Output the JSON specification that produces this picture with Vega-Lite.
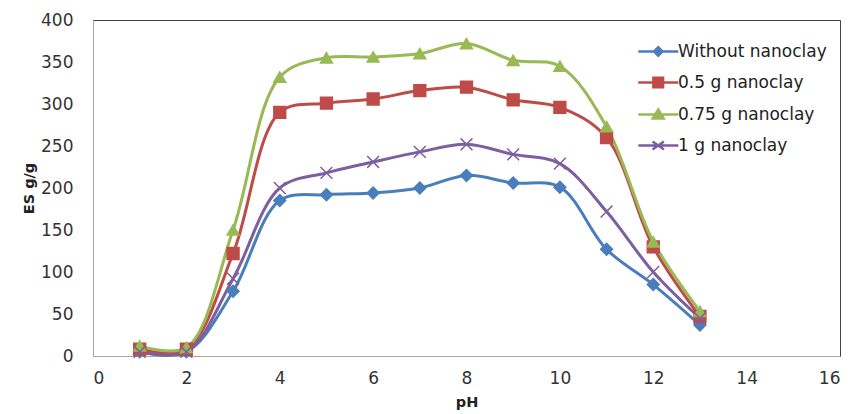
{
  "$schema": "https://vega.github.io/schema/vega-lite/v6.json",
  "width": 747,
  "height": 336,
  "autosize": {"type": "none"},
  "padding": {"left": 93, "top": 20, "right": 15, "bottom": 58},
  "background": "white",
  "config": {
    "view": {"stroke": "#404040", "strokeWidth": 1},
    "font": "DejaVu Sans",
    "axis": {"grid": false, "ticks": false, "domainColor": "#a6a6a6", "labelColor": "#333333", "labelFont": "DejaVu Sans", "labelFontSize": 17, "titleFont": "DejaVu Sans", "titleFontWeight": "bold", "titleFontSize": 14.5, "titleColor": "#222222"},
    "legend": {"orient": "none", "legendX": 552, "legendY": 16, "padding": 0, "symbolSize": 812, "symbolStrokeWidth": 2.5, "symbolOpacity": 1, "labelOffset": 2, "rowPadding": 6, "labelFont": "DejaVu Sans", "labelFontSize": 17, "labelColor": "#222222", "labelLimit": 300}
  },
  "data": {
    "values": [
      {"pH": 1, "series": "Without nanoclay", "ES": 5},
      {"pH": 2, "series": "Without nanoclay", "ES": 5},
      {"pH": 3, "series": "Without nanoclay", "ES": 77},
      {"pH": 4, "series": "Without nanoclay", "ES": 185},
      {"pH": 5, "series": "Without nanoclay", "ES": 192},
      {"pH": 6, "series": "Without nanoclay", "ES": 194},
      {"pH": 7, "series": "Without nanoclay", "ES": 200},
      {"pH": 8, "series": "Without nanoclay", "ES": 215},
      {"pH": 9, "series": "Without nanoclay", "ES": 206},
      {"pH": 10, "series": "Without nanoclay", "ES": 201},
      {"pH": 11, "series": "Without nanoclay", "ES": 127},
      {"pH": 12, "series": "Without nanoclay", "ES": 85},
      {"pH": 13, "series": "Without nanoclay", "ES": 37},
      {"pH": 1, "series": " 0.5 g nanoclay", "ES": 8},
      {"pH": 2, "series": " 0.5 g nanoclay", "ES": 8},
      {"pH": 3, "series": " 0.5 g nanoclay", "ES": 122},
      {"pH": 4, "series": " 0.5 g nanoclay", "ES": 290},
      {"pH": 5, "series": " 0.5 g nanoclay", "ES": 301},
      {"pH": 6, "series": " 0.5 g nanoclay", "ES": 306},
      {"pH": 7, "series": " 0.5 g nanoclay", "ES": 316},
      {"pH": 8, "series": " 0.5 g nanoclay", "ES": 320},
      {"pH": 9, "series": " 0.5 g nanoclay", "ES": 305},
      {"pH": 10, "series": " 0.5 g nanoclay", "ES": 296},
      {"pH": 11, "series": " 0.5 g nanoclay", "ES": 260},
      {"pH": 12, "series": " 0.5 g nanoclay", "ES": 130},
      {"pH": 13, "series": " 0.5 g nanoclay", "ES": 47},
      {"pH": 1, "series": "0.75 g nanoclay", "ES": 12},
      {"pH": 2, "series": "0.75 g nanoclay", "ES": 10},
      {"pH": 3, "series": "0.75 g nanoclay", "ES": 150},
      {"pH": 4, "series": "0.75 g nanoclay", "ES": 332},
      {"pH": 5, "series": "0.75 g nanoclay", "ES": 355},
      {"pH": 6, "series": "0.75 g nanoclay", "ES": 356},
      {"pH": 7, "series": "0.75 g nanoclay", "ES": 360},
      {"pH": 8, "series": "0.75 g nanoclay", "ES": 372},
      {"pH": 9, "series": "0.75 g nanoclay", "ES": 352},
      {"pH": 10, "series": "0.75 g nanoclay", "ES": 345},
      {"pH": 11, "series": "0.75 g nanoclay", "ES": 273},
      {"pH": 12, "series": "0.75 g nanoclay", "ES": 136},
      {"pH": 13, "series": "0.75 g nanoclay", "ES": 53},
      {"pH": 1, "series": "1 g nanoclay", "ES": 5},
      {"pH": 2, "series": "1 g nanoclay", "ES": 5},
      {"pH": 3, "series": "1 g nanoclay", "ES": 92},
      {"pH": 4, "series": "1 g nanoclay", "ES": 200},
      {"pH": 5, "series": "1 g nanoclay", "ES": 218},
      {"pH": 6, "series": "1 g nanoclay", "ES": 231},
      {"pH": 7, "series": "1 g nanoclay", "ES": 243},
      {"pH": 8, "series": "1 g nanoclay", "ES": 252},
      {"pH": 9, "series": "1 g nanoclay", "ES": 240},
      {"pH": 10, "series": "1 g nanoclay", "ES": 229},
      {"pH": 11, "series": "1 g nanoclay", "ES": 172},
      {"pH": 12, "series": "1 g nanoclay", "ES": 100},
      {"pH": 13, "series": "1 g nanoclay", "ES": 45}
    ]
  },
  "encoding": {
    "x": {"field": "pH", "type": "quantitative", "scale": {"domain": [0, 16], "nice": false}, "axis": {"values": [0, 2, 4, 6, 8, 10, 12, 14, 16], "labelPadding": 14, "titlePadding": 9, "title": "pH"}},
    "y": {"field": "ES", "type": "quantitative", "scale": {"domain": [0, 400], "nice": false}, "axis": {"values": [0, 50, 100, 150, 200, 250, 300, 350, 400], "labelPadding": 20, "titlePadding": 4, "title": "ES g/g"}}
  },
  "resolve": {
    "scale": {"color": "independent", "shape": "independent", "stroke": "independent"},
    "legend": {"color": "independent", "shape": "independent", "stroke": "independent"}
  },
  "layer": [
    {
      "mark": {"type": "line", "interpolate": "catmull-rom", "strokeWidth": 3},
      "encoding": {
        "color": {"field": "series", "type": "nominal", "scale": {"domain": ["Without nanoclay", " 0.5 g nanoclay", "0.75 g nanoclay", "1 g nanoclay"], "range": ["#4a7ebb", "#be4b48", "#98b954", "#7d5fa0"]}, "legend": null}
      }
    },
    {
      "mark": {"type": "point", "filled": true, "opacity": 1, "size": 140, "strokeWidth": 1.5},
      "encoding": {
        "color": {"field": "series", "type": "nominal", "scale": {"domain": ["Without nanoclay", " 0.5 g nanoclay", "0.75 g nanoclay", "1 g nanoclay"], "range": ["#4a7ebb", "#be4b48", "#98b954", "#7d5fa0"]}, "legend": null},
        "shape": {"field": "series", "type": "nominal", "scale": {"domain": ["Without nanoclay", " 0.5 g nanoclay", "0.75 g nanoclay", "1 g nanoclay"], "range": ["diamond", "square", "triangle-up", "M-1,-1L1,1M-1,1L1,-1"]}, "legend": null},
        "stroke": {"field": "series", "type": "nominal", "scale": {"domain": ["Without nanoclay", " 0.5 g nanoclay", "0.75 g nanoclay", "1 g nanoclay"], "range": ["#4a7ebb", "#be4b48", "#98b954", "#7d5fa0"]}, "legend": null}
      }
    },
    {
      "mark": {"type": "point", "filled": true, "opacity": 0, "size": 10, "strokeWidth": 2.5},
      "encoding": {
        "color": {"field": "series", "type": "nominal", "scale": {"domain": ["Without nanoclay", " 0.5 g nanoclay", "0.75 g nanoclay", "1 g nanoclay"], "range": ["#4a7ebb", "#be4b48", "#98b954", "#7d5fa0"]}, "legend": {"title": null}},
        "shape": {"field": "series", "type": "nominal", "scale": {"domain": ["Without nanoclay", " 0.5 g nanoclay", "0.75 g nanoclay", "1 g nanoclay"], "range": [
          "M-1.56,0L1.25,0M-0.16,-0.3L0.14,0L-0.16,0.3L-0.46,0Z",
          "M-1.56,0L1.25,0M-0.5,-0.34L0.18,-0.34L0.18,0.34L-0.5,0.34Z",
          "M-1.56,0L1.25,0M-0.16,-0.35L0.22,0.28L-0.54,0.28Z",
          "M-1.56,0L1.25,0M-0.56,-0.28L0.24,0.28M-0.56,0.28L0.24,-0.28"]}, "legend": {"title": null}},
        "stroke": {"field": "series", "type": "nominal", "scale": {"domain": ["Without nanoclay", " 0.5 g nanoclay", "0.75 g nanoclay", "1 g nanoclay"], "range": ["#4a7ebb", "#be4b48", "#98b954", "#7d5fa0"]}, "legend": {"title": null}}
      }
    }
  ]
}
